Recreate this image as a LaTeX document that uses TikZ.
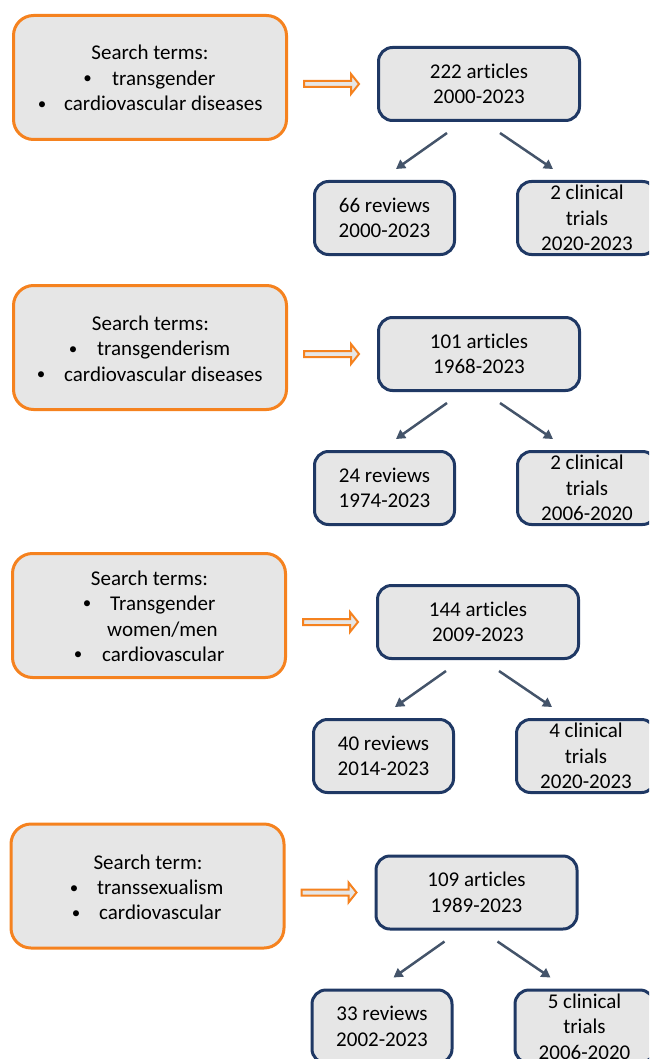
\documentclass[tikz,border=0pt]{standalone}
\usepackage{fontspec}
\setmainfont{Carlito}[Ligatures=NoCommon]
\usetikzlibrary{arrows.meta}
\definecolor{orangeC}{HTML}{F5821F}
\definecolor{navyC}{HTML}{1F3864}
\definecolor{slateC}{HTML}{44546A}
\definecolor{boxfill}{HTML}{E6E6E6}
\tikzset{
  searchbox/.style={draw=orangeC, line width=3pt, fill=boxfill, rounded corners=20pt,
    minimum width=273pt, minimum height=124pt, inner sep=0pt},
  resultbox/.style={draw=navyC, line width=3pt, fill=boxfill, rounded corners=14pt,
    inner sep=0pt, align=center, font=\fontsize{21}{25.5}\selectfont},
  link/.style={draw=slateC, line width=2.5pt, -{Triangle[length=9pt,width=10pt]}},
  dblarrow/.style={draw=orangeC, line width=2pt, fill=boxfill, line join=miter},
  txt/.style={inner sep=0pt, anchor=base, font=\fontsize{21}{25.5}\selectfont},
  txtw/.style={txt, anchor=base west},
  bullet/.style={inner sep=0pt, anchor=base, yshift=1.5pt, font=\fontsize{17}{20}\selectfont},
}
\newcommand{\searchblock}[7]{%
  \begin{scope}[shift={(#2,#3)}]
    \node[searchbox] (#1s) at (150,77.5) {};
    \node[resultbox, minimum width=201pt, minimum height=73pt] (#1a) at (479,84) {#4};
    \node[resultbox, minimum width=140pt, minimum height=73pt] (#1r) at (384.5,218) {#5};
    \node[resultbox, minimum width=139pt, minimum height=73pt] (#1c) at (587,218) {#6};
    \draw[dblarrow] (304,81) -- (351,81) -- (351,74) -- (359,84) -- (351,94) -- (351,87) -- (304,87) -- cycle;
    \draw[link] ([xshift=-32pt,yshift=-11pt]#1a.south) -- ([xshift=11.5pt,yshift=11pt]#1r.north);
    \draw[link] ([xshift=21pt,yshift=-11pt]#1a.south) -- ([xshift=-34pt,yshift=11pt]#1c.north);
    #7
  \end{scope}}
\begin{document}
\begin{tikzpicture}[x=1pt,y=-1pt]
  \path[use as bounding box] (0,0) rectangle (649,1059);
  \clip (0,0) rectangle (649,1059);

  \searchblock{b1}{0}{0}{222 articles\\2000-2023}{66 reviews\\2000-2023}{2 clinical\\trials\\2020-2023}{%
    \node[txt] (b1t1) at (150,60) {Search terms:};
    \node[bullet] (b1p1) at (87.5,85.5) {•};
    \node[txtw] (b1t2) at (112,85.5) {transgender};
    \node[bullet] (b1p2) at (42,111) {•};
    \node[txtw] (b1t3) at (64,111) {cardiovascular diseases};
  }

  \searchblock{b2}{0}{270}{101 articles\\1968-2023}{24 reviews\\1974-2023}{2 clinical\\trials\\2006-2020}{%
    \node[txt] (b2t1) at (150.5,60) {Search terms:};
    \node[bullet] (b2p1) at (73,85.5) {•};
    \node[txtw] (b2t2) at (97,85.5) {transgenderism};
    \node[bullet] (b2p2) at (41,111) {•};
    \node[txtw] (b2t3) at (64,111) {cardiovascular diseases};
  }

  \searchblock{b3}{-1}{538}{144 articles\\2009-2023}{40 reviews\\2014-2023}{4 clinical\\trials\\2020-2023}{%
    \node[txt] (b3t1) at (150.5,47) {Search terms:};
    \node[bullet] (b3p1) at (88,72) {•};
    \node[txtw] (b3t2) at (111,72) {Transgender};
    \node[txtw] (b3t3) at (108,98) {women/men};
    \node[bullet] (b3p2) at (79,123) {•};
    \node[txtw] (b3t4) at (103,123) {cardiovascular};
  }

  \searchblock{b4}{-2.5}{808.5}{109 articles\\1989-2023}{33 reviews\\2002-2023}{5 clinical\\trials\\2006-2020}{%
    \node[txt] (b4t1) at (150.5,61) {Search term:};
    \node[bullet] (b4p1) at (76.5,86) {•};
    \node[txtw] (b4t2) at (99.5,86) {transsexualism};
    \node[bullet] (b4p2) at (78.5,111) {•};
    \node[txtw] (b4t3) at (101.5,111) {cardiovascular};
  }
\end{tikzpicture}
\end{document}
